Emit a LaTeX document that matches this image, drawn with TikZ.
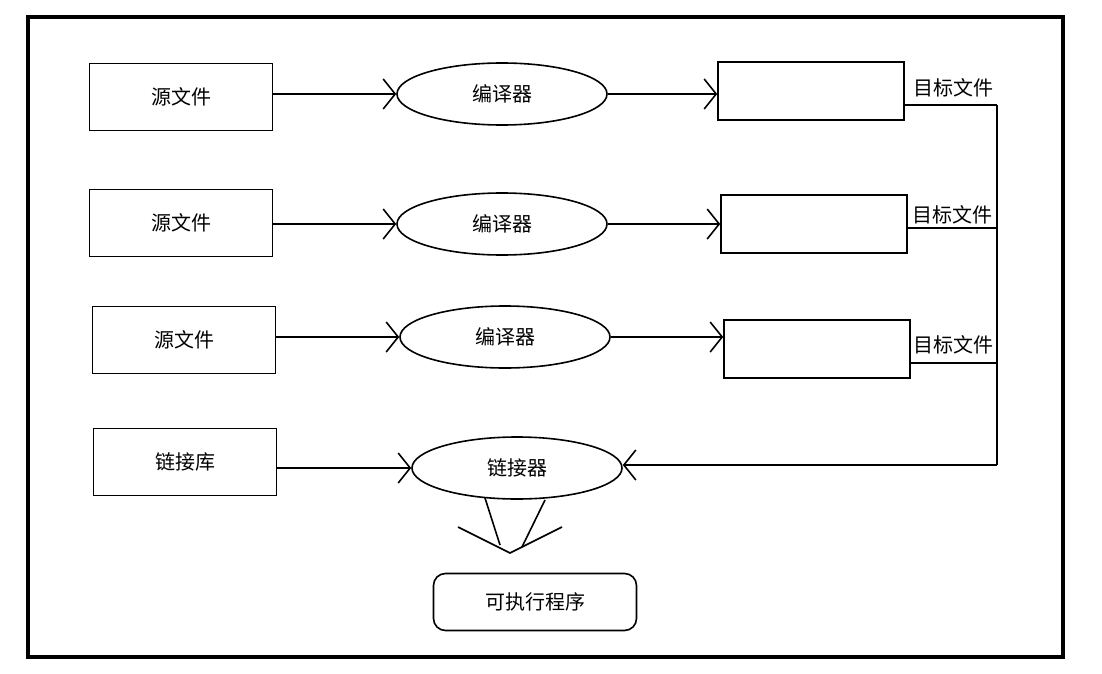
\documentclass[tikz,border=0pt]{standalone}
\usepackage{fontspec}
\setmainfont{Noto Sans CJK SC}
\usetikzlibrary{arrows.meta,shapes.geometric}
\tikzset{
  every path/.style={line width=1.6pt},
  box/.style={draw,line width=1.6pt,minimum width=183pt,minimum height=67pt,inner sep=0pt},
  tbox/.style={draw,line width=1.6pt,minimum width=186pt,minimum height=58pt,inner sep=0pt},
  comp/.style={draw,line width=1.6pt,ellipse,minimum width=210pt,minimum height=62pt,inner sep=0pt},
  arr/.style={-{Straight Barb[length=12pt,width=30pt]}},
  lab/.style={inner sep=0pt}
}
\begin{document}
\begin{tikzpicture}[x=1pt,y=-1pt,font=\fontsize{20}{24}\selectfont]
  \useasboundingbox (0,0) rectangle (1102,674);
  \draw[line width=4pt] (28,17) rectangle (1063,657);
  % sources
  \node[box] (s1) at (181,97) {源文件};
  \node[box] (s2) at (181,223) {源文件};
  \node[box] (s3) at (184,340) {源文件};
  \node[box] (lib) at (185,462) {链接库};
  % compilers
  \node[comp] (c1) at (502,94) {编译器};
  \node[comp] (c2) at (502,224) {编译器};
  \node[comp] (c3) at (505,337) {编译器};
  \node[comp] (ld) at (517,468) {链接器};
  % objects
  \node[tbox] (t1) at (811,91) {};
  \node[tbox] (t2) at (814,224) {};
  \node[tbox] (t3) at (817,349) {};
  \node[lab] (l1) at (953,88) {目标文件};
  \node[lab] (l2) at (952,215) {目标文件};
  \node[lab] (l3) at (953,345) {目标文件};
  \node[draw,line width=1.6pt,rounded corners=12pt,minimum width=203pt,minimum height=57pt] (exe) at (535,602) {可执行程序};
  \coordinate (j1) at (997,105);
  \coordinate (j2) at (997,228);
  \coordinate (j3) at (997,363);
  \coordinate (j4) at (997,465);
  \coordinate (tip) at (510,553);
  % connectors
  \draw[arr] (s1.east |- c1) -- (c1.west);
  \draw[arr] (s2.east |- c2) -- (c2.west);
  \draw[arr] (s3.east |- c3) -- (c3.west);
  \draw[arr] (lib.east |- ld) -- (ld.west);
  \draw[arr] (c1.east) -- (t1.west |- c1);
  \draw[arr] (c2.east) -- (t2.west |- c2);
  \draw[arr] (c3.east) -- (t3.west |- c3);
  \draw (t1.east |- j1) -- (j1);
  \draw (t2.east |- j2) -- (j2);
  \draw (t3.east |- j3) -- (j3);
  \draw (j1) -- (j4);
  \draw[arr] (j4) -- (ld.east |- j4);
  \draw (485,498) -- (500,545);
  \draw (545,500) -- (522,547);
  \draw (458,527) -- (tip) -- (562,527);
\end{tikzpicture}
\end{document}
